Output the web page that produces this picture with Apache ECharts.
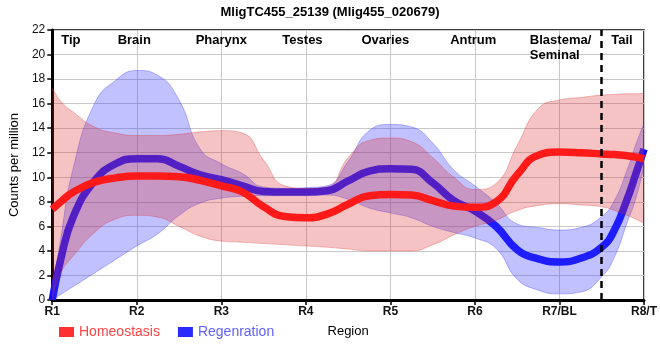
<!DOCTYPE html>
<html><head><meta charset="utf-8">
<script src="https://cdn.jsdelivr.net/npm/echarts@6/dist/echarts.min.js"></script>
<style>html,body{margin:0;padding:0;background:#fff}#c{width:660px;height:360px}</style>
</head><body><div id="c"></div>
<script>
const xs = [1,1.1,1.25,1.5,1.75,2,2.25,2.5,2.75,3,3.25,3.5,3.75,4,4.25,4.5,4.75,5,5.25,5.5,5.75,6,6.25,6.5,6.75,7,7.25,7.5,7.65,7.8,7.9,8];
const homeoMean  = [7.4,8.0,8.8,9.6,9.95,10.1,10.1,10.05,9.75,9.3,8.8,7.6,6.8,6.7,7.0,7.8,8.5,8.6,8.55,8.1,7.65,7.55,8.0,10.2,11.8,12.05,12.0,11.9,11.85,11.75,11.65,11.5];
const homeoUpper = [17.3,16.2,15.3,14.1,13.6,13.4,13.4,13.5,13.7,13.8,13.6,11.4,9.3,9.1,9.2,11.6,13.0,13.2,12.9,11.6,10.0,9.0,9.5,12.6,15.6,16.3,16.5,16.7,16.75,16.8,16.8,16.85];
const homeoLower = [0,2.2,3.6,5.5,6.6,6.9,6.75,6.0,5.2,4.8,4.7,4.6,4.5,4.4,4.3,4.15,4.0,4.0,4.0,4.5,5.3,6.0,6.5,7.3,7.7,7.85,7.75,7.6,7.3,6.9,6.6,6.25];
const regenMean  = [0,3.3,6.8,9.7,11.1,11.5,11.5,10.9,10.2,9.8,9.3,8.85,8.8,8.8,8.9,9.7,10.5,10.7,10.65,9.55,8.1,7.25,6.0,4.1,3.35,3.1,3.4,4.3,5.7,8.2,10.2,12.3];
const regenUpper = [0.3,5.0,10.8,16.0,17.9,18.7,18.3,16.3,12.3,11.1,10.3,9.2,9.1,9.15,9.3,11.3,13.8,14.3,14.1,12.8,10.6,9.3,7.9,6.2,5.9,5.7,5.9,6.8,8.1,10.6,12.6,14.4];
const regenLower = [0,0.45,1.1,2.2,3.3,4.4,5.4,6.9,7.9,8.3,8.45,8.5,8.5,8.5,8.55,8.2,7.5,7.1,6.7,6.0,5.5,5.05,4.2,1.7,0.8,0.5,0.65,1.9,3.5,6.3,8.2,10.9];
const tickLabels = ['R1','R2','R3','R4','R5','R6','R7/BL','R8/T'];
const regionNames = ['Tip','Brain','Pharynx','Testes','Ovaries','Antrum','Blastema/\nSeminal','Tail'];
const regionPos = [1.22,1.97,3.0,3.96,4.94,5.98,6.65,7.74];
const regionAlign = ['center','center','center','center','center','center','left','center'];
const dividerX = 7.5;

// data rows are [y, x] so that the stacked dimension is the y value
const pts = a => xs.map((x,i)=>[a[i], x]);
const diff = (u,l) => xs.map((x,i)=>[+(u[i]-l[i]).toFixed(3), x]);
const FONT = '"Liberation Sans", Arial, sans-serif';

const chart = echarts.init(document.getElementById('c'), null, {renderer:'canvas'});
const common = {type:'line', symbol:'none', smooth:0.5, silent:true, encode:{x:1, y:0}};
chart.setOption({
  animation:false,
  textStyle:{fontFamily:FONT},
  title:{text:'MligTC455_25139 (Mlig455_020679)', left:'center', top:1,
    textStyle:{fontSize:13, fontWeight:'bold', color:'#000', fontFamily:FONT}},
  grid:{left:50, right:10, top:30, bottom:60, show:true, borderColor:'#000', borderWidth:1.5, backgroundColor:'transparent'},
  legend:{left:54, top:320, itemWidth:15, itemHeight:10, itemGap:18, icon:'rect',
    data:[{name:'Homeostasis', textStyle:{color:'#ff4444'}},{name:'Regenration', textStyle:{color:'#6060ff'}}],
    textStyle:{fontSize:14, fontFamily:FONT}},
  xAxis:{type:'value', min:1, max:8, interval:1,
    name:'Region', nameLocation:'middle', nameGap:25, nameTextStyle:{fontSize:13, color:'#000'},
    axisLine:{lineStyle:{color:'#000', width:3}},
    axisTick:{show:true, length:5, lineStyle:{color:'#000', width:1.5}},
    axisLabel:{formatter:v=>tickLabels[Math.round(v)-1]||'', fontSize:12, fontWeight:'bold', color:'#111', margin:6},
    splitLine:{show:true, lineStyle:{color:'#c8c8c8', width:1}}},
  yAxis:{type:'value', min:0, max:22, interval:2,
    name:'Counts per million', nameLocation:'middle', nameGap:15, nameTextStyle:{fontSize:13, color:'#000'},
    axisLine:{show:true, lineStyle:{color:'#000', width:3}},
    axisTick:{show:true, length:5, lineStyle:{color:'#000', width:1.5}},
    axisLabel:{fontSize:12, color:'#111', margin:7},
    splitLine:{show:true, lineStyle:{color:'#c8c8c8', width:1}}},
  series:[
    Object.assign({}, common, {name:'Regenration', z:1, data:pts(regenMean),
      itemStyle:{color:'#2a2aff'}, lineStyle:{color:'#1010ff', width:7.5}}),
    Object.assign({}, common, {name:'rl', z:2, stack:'r', data:pts(regenLower),
      lineStyle:{color:'rgba(60,60,255,0.35)', width:1}}),
    Object.assign({}, common, {name:'ru', z:2, stack:'r', data:diff(regenUpper,regenLower),
      lineStyle:{color:'rgba(60,60,255,0.35)', width:1},
      areaStyle:{color:'rgba(60,60,255,0.45)'}}),
    Object.assign({}, common, {name:'hl', z:3, stack:'h', data:pts(homeoLower),
      lineStyle:{color:'rgba(220,40,40,0.3)', width:1}}),
    Object.assign({}, common, {name:'hu', z:3, stack:'h', data:diff(homeoUpper,homeoLower),
      lineStyle:{color:'rgba(220,40,40,0.3)', width:1},
      areaStyle:{color:'rgba(220,40,40,0.4)'}}),
    Object.assign({}, common, {name:'Homeostasis', z:4, data:pts(homeoMean),
      itemStyle:{color:'#ff3030'}, lineStyle:{color:'#ff1a1a', width:7.5},
      markLine:{silent:true, symbol:'none', label:{show:false},
        lineStyle:{color:'#000', type:[7,5], width:2.5},
        data:[{xAxis:dividerX}]}})
  ]
});

const labelY = chart.convertToPixel({gridIndex:0}, [1, 22])[1] + 3;
chart.setOption({graphic: regionNames.map((n,i)=>({
  type:'text', silent:true, z:100,
  x: chart.convertToPixel({gridIndex:0}, [regionPos[i], 0])[0],
  y: labelY,
  style:{text:n, fill:'#000', font:'bold 13px '+FONT, textAlign:regionAlign[i], textVerticalAlign:'top', lineHeight:15}
}))});
</script></body></html>
